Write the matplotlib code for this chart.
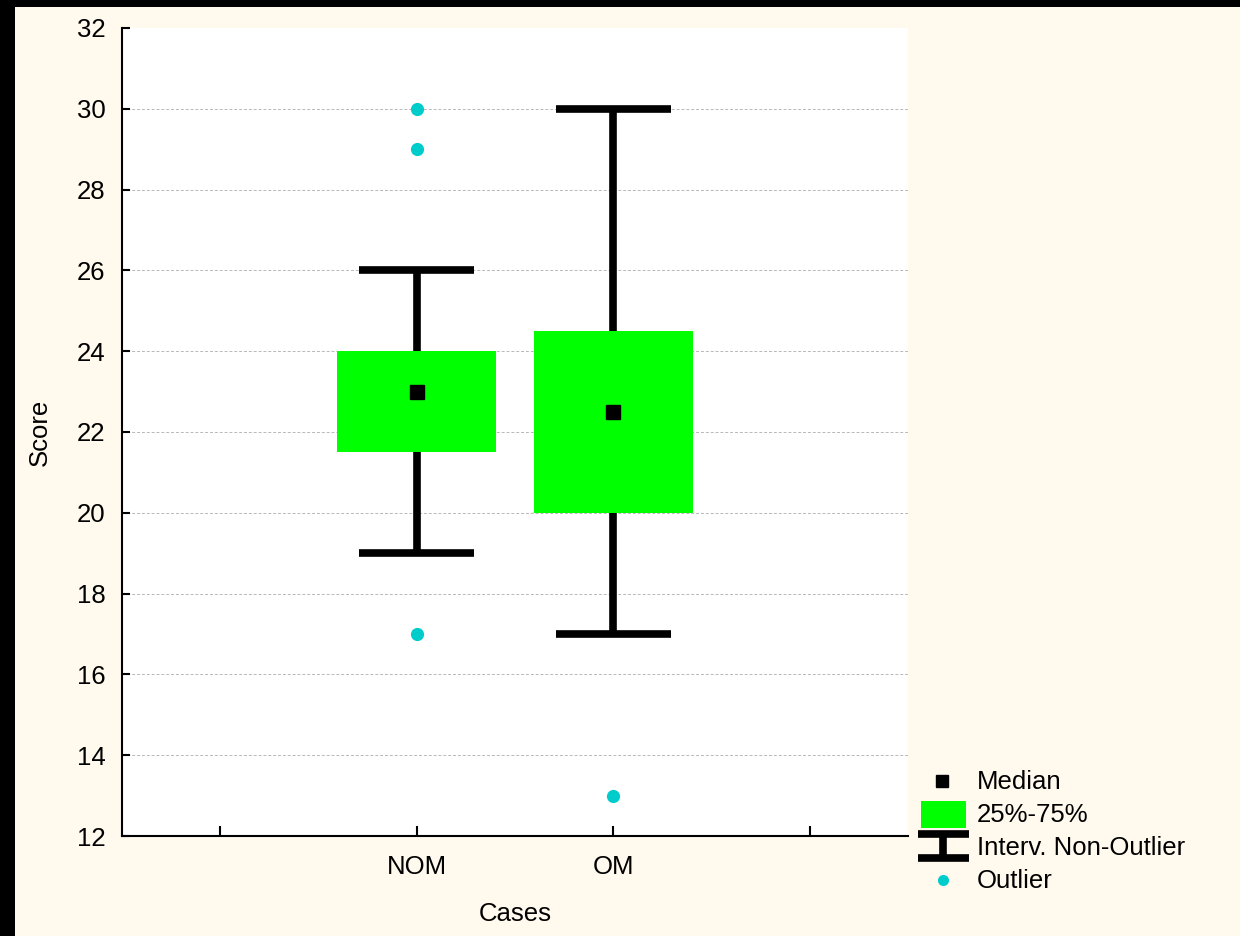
import matplotlib
matplotlib.use("Agg")
import matplotlib.pyplot as plt
from matplotlib.patches import Rectangle
from matplotlib.lines import Line2D

plt.rcParams['font.family'] = ['Liberation Sans', 'DejaVu Sans']

# data
cases = ['NOM', 'OM']
positions = [2, 3]
medians = [23.0, 22.5]
q1 = [21.5, 20.0]
q3 = [24.0, 24.5]
whisk_lo = [19.0, 17.0]
whisk_hi = [26.0, 30.0]
outliers = [[30.0, 29.0, 17.0], [13.0]]

BOX_GREEN = '#00ff00'
OUT_CYAN = '#00cccc'
BG = '#fff9ee'
FS = 18.5

fig = plt.figure(figsize=(12.4, 9.36), dpi=100)
fig.patch.set_facecolor('black')
# cream panel inside black frame (top and left edges)
fig.add_artist(Rectangle((15 / 1240, 0), 1, 1 - 7 / 936, transform=fig.transFigure,
                         facecolor=BG, edgecolor='none', zorder=-10))

ax = fig.add_axes([122 / 1240, 100 / 936, 786 / 1240, 808 / 936])
ax.set_facecolor('white')

box_w = 0.81
cap_w = 0.585
lw = 5.5

for i, x in enumerate(positions):
    ax.vlines(x, whisk_lo[i], whisk_hi[i], color='black', lw=lw, zorder=2)
    ax.hlines([whisk_lo[i], whisk_hi[i]], x - cap_w / 2, x + cap_w / 2,
              color='black', lw=lw, zorder=2)
    ax.bar(x, q3[i] - q1[i], bottom=q1[i], width=box_w, color=BOX_GREEN,
           edgecolor='none', zorder=3)
    ax.plot(x, medians[i], 's', color='black', ms=9.5, zorder=4)
    ax.plot([x] * len(outliers[i]), outliers[i], 'o', color=OUT_CYAN,
            ms=9.5, mec='none', zorder=4)

ax.set_xlim(0.5, 4.5)
ax.set_ylim(12, 32)
ax.set_yticks(range(12, 33, 2))
ax.set_xticks([1, 2, 3, 4])
ax.set_xticklabels([''] + cases + [''])
ax.grid(axis='y', linestyle=(0, (3, 2)), color='#b8b8b8', lw=0.7, zorder=0)
ax.set_axisbelow(True)
ygrid = ax.yaxis.get_gridlines()
ygrid[0].set_visible(False)
ygrid[-1].set_visible(False)

for side in ['top', 'right']:
    ax.spines[side].set_visible(False)
for side in ['left', 'bottom']:
    ax.spines[side].set_linewidth(1.5)

ax.tick_params(axis='y', direction='in', length=6, width=1.5, labelsize=FS, pad=12)
ax.tick_params(axis='x', direction='in', length=7, width=1.5, labelsize=FS, pad=14)

ax.set_xlabel('Cases', fontsize=FS, labelpad=16)
ax.set_ylabel('Score', fontsize=FS, labelpad=18)

# legend drawn by hand on an overlay axes in pixel-like coordinates
lax = fig.add_axes([0, 0, 1, 1], facecolor='none')
lax.set_xlim(0, 1240)
lax.set_ylim(936, 0)
lax.axis('off')

lax.plot(942, 781, 's', color='black', ms=8)
lax.add_patch(Rectangle((921, 801), 45, 27, facecolor=BOX_GREEN, edgecolor='none'))
lax.add_line(Line2D([918, 969], [834, 834], color='black', lw=5.5, solid_capstyle='butt'))
lax.add_line(Line2D([918, 969], [858, 858], color='black', lw=5.5, solid_capstyle='butt'))
lax.add_line(Line2D([943, 943], [834, 858], color='black', lw=5.5, solid_capstyle='butt'))
lax.plot(943, 880, 'o', color=OUT_CYAN, ms=8, mec='none')

leg_labels = ['Median', '25%-75%', 'Interv. Non-Outlier', 'Outlier']
for lbl, yy in zip(leg_labels, [782, 815, 848, 881]):
    lax.text(977, yy, lbl, fontsize=FS, va='center', ha='left')

fig.savefig('out.png', dpi=100, facecolor=fig.get_facecolor())
